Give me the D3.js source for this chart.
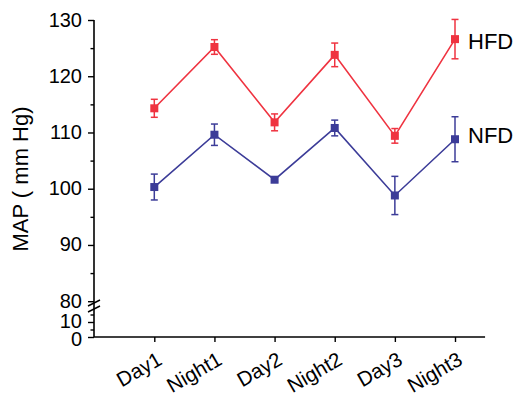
<!DOCTYPE html>
<html>
<head>
<meta charset="utf-8">
<script src="https://cdn.jsdelivr.net/npm/d3@7/dist/d3.min.js"></script>
<style>
  body { margin: 0; background: #fff; }
  svg { display: block; }
  text { font-family: "Liberation Sans", Arial, sans-serif; fill: #000; }
</style>
</head>
<body>
<svg id="chart" width="516" height="397"></svg>
<script>
// Mean arterial pressure per period, two diet groups
const categories = ["Day1", "Night1", "Day2", "Night2", "Day3", "Night3"];
const hfdMean = [114.3, 125.2, 111.8, 123.8, 109.4, 126.6];
const hfdErr  = [1.6, 1.3, 1.5, 2.1, 1.3, 3.5];
const nfdMean = [100.3, 109.6, 101.6, 110.8, 98.8, 108.8];
const nfdErr  = [2.3, 1.9, 0.4, 1.4, 3.4, 4.0];
const upperTicks = [80, 90, 100, 110, 120, 130];
const upperMinor = [85, 95, 105, 115, 125];
const lowerTicks = [0, 10];
const lowerMinor = [5, 15];
const seriesNames = ["HFD", "NFD"];
const seriesLabelAt = [126.2, 109.6];

const red = "#ef3340";
const blue = "#3c3c98";

const svg = d3.select("#chart");

// Horizontal: evenly spaced categories
const x = d3.scalePoint().domain(categories).range([154.3, 455]);
const step = x.step();
const xAxisY = 337;
const yAxisX = 94;

// Vertical: broken axis, upper band 80–130, lower band 0–17
const yU = d3.scaleLinear().domain([80, 130]).range([301.2, 20]);
const yL = d3.scaleLinear().domain([0, 10]).range([xAxisY, 322]);

const axisG = svg.append("g").attr("stroke", "#000");

// Y axis line
axisG.append("line")
  .attr("x1", yAxisX).attr("x2", yAxisX)
  .attr("y1", xAxisY).attr("y2", yU(130))
  .attr("stroke-width", 1.6);

// Y major/minor ticks and labels, upper band
const gU = svg.append("g").attr("transform", `translate(${yAxisX},0)`)
  .call(d3.axisLeft(yU).tickValues(upperTicks).tickSize(6).tickPadding(6));
const gUm = svg.append("g").attr("transform", `translate(${yAxisX},0)`)
  .call(d3.axisLeft(yU).tickValues(upperMinor).tickSize(3.5).tickFormat(""));
// lower band
const gL = svg.append("g").attr("transform", `translate(${yAxisX},0)`)
  .call(d3.axisLeft(yL).tickValues(lowerTicks).tickSize(6).tickPadding(6));
const gLm = svg.append("g").attr("transform", `translate(${yAxisX},0)`)
  .call(d3.axisLeft(yL).tickValues(lowerMinor).tickSize(3.5).tickFormat(""));

[gU, gUm, gL, gLm].forEach(g => {
  g.select(".domain").remove();
  g.selectAll(".tick line").attr("stroke", "#000").attr("stroke-width", 1.4);
  g.selectAll(".tick text")
    .attr("font-size", 20)
    .attr("font-family", "'Liberation Sans', Arial, sans-serif")
    .attr("fill", "#000")
    .attr("dy", "0.3em");
});
// the zero label sits slightly below its tick
gL.selectAll(".tick text").filter(d => d === 0).attr("dy", "0.42em");
gL.selectAll(".tick text").filter(d => d === 10).attr("dy", "0.26em");

// Axis break marks
const breakY = [303, 309];
axisG.selectAll("line.brk").data(breakY).join("line")
  .attr("class", "brk")
  .attr("x1", yAxisX - 6).attr("x2", yAxisX + 6)
  .attr("y1", d => d + 3).attr("y2", d => d - 3)
  .attr("stroke-width", 1.4);

// X axis line and ticks
axisG.append("line")
  .attr("x1", yAxisX).attr("x2", x("Night3") + step / 2)
  .attr("y1", xAxisY).attr("y2", xAxisY)
  .attr("stroke-width", 1.6);

const gX = svg.append("g").attr("transform", `translate(0,${xAxisY})`)
  .call(d3.axisBottom(x).tickSize(5).tickFormat(""));
gX.select(".domain").remove();
gX.selectAll(".tick line").attr("stroke", "#000").attr("stroke-width", 1.4);

// Rotated category labels
svg.append("g").selectAll("text").data(categories).join("text")
  .attr("transform", d => `translate(${x(d) + 9},${xAxisY + 26.5}) rotate(-30)`)
  .attr("text-anchor", "end")
  .attr("font-size", 20.5)
  .text(d => d);

// Y axis title
svg.append("text")
  .attr("transform", `translate(28,179) rotate(-90)`)
  .attr("text-anchor", "middle")
  .attr("font-size", 22)
  .text("MAP ( mm Hg)");

// Series: line, error bars, square markers
function drawSeries(means, errs, color) {
  const pts = categories.map((c, i) => ({ c, m: means[i], e: errs[i] }));
  const g = svg.append("g");
  g.append("path")
    .datum(pts)
    .attr("fill", "none")
    .attr("stroke", color)
    .attr("stroke-width", 1.6)
    .attr("d", d3.line().x(d => x(d.c)).y(d => yU(d.m)));
  const eb = g.selectAll("g.eb").data(pts).join("g").attr("class", "eb")
    .attr("stroke", color).attr("stroke-width", 1.5);
  eb.append("line")
    .attr("x1", d => x(d.c)).attr("x2", d => x(d.c))
    .attr("y1", d => yU(d.m - d.e)).attr("y2", d => yU(d.m + d.e));
  eb.append("line")
    .attr("x1", d => x(d.c) - 3.5).attr("x2", d => x(d.c) + 3.5)
    .attr("y1", d => yU(d.m + d.e)).attr("y2", d => yU(d.m + d.e));
  eb.append("line")
    .attr("x1", d => x(d.c) - 3.5).attr("x2", d => x(d.c) + 3.5)
    .attr("y1", d => yU(d.m - d.e)).attr("y2", d => yU(d.m - d.e));
  g.selectAll("rect").data(pts).join("rect")
    .attr("x", d => x(d.c) - 4).attr("y", d => yU(d.m) - 4)
    .attr("width", 8).attr("height", 8)
    .attr("fill", color);
}
drawSeries(hfdMean, hfdErr, red);
drawSeries(nfdMean, nfdErr, blue);

// Series names beside the last points
svg.append("g").selectAll("text").data(seriesNames).join("text")
  .attr("x", 468)
  .attr("y", (d, i) => yU(seriesLabelAt[i]))
  .attr("dy", "0.36em")
  .attr("font-size", 22)
  .text(d => d);
</script>
</body>
</html>
